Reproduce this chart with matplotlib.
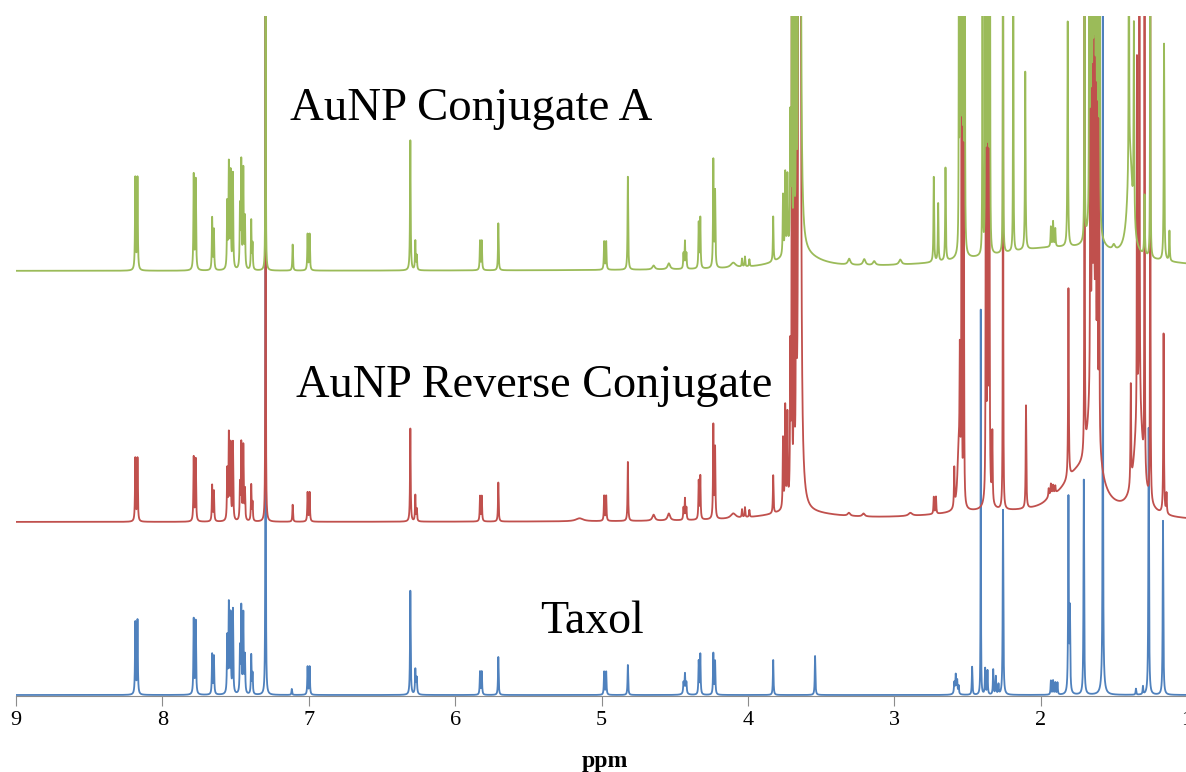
"""Stacked 1H NMR spectra: Taxol vs. AuNP conjugates."""

import numpy as np
import matplotlib
matplotlib.use("Agg")
import matplotlib.pyplot as plt

BLUE = "#4F81BD"
RED = "#C0504D"
GREEN = "#9BBB59"

# vertical offsets of each trace (plot units = pixels above x axis)
blue_offset = 1
red_offset = 174
green_offset = 425

tick_values = [9, 8, 7, 6, 5, 4, 3, 2, 1]
tick_labels = ["9", "8", "7", "6", "5", "4", "3", "2", "1"]

# --- Taxol (blue): sharp lines ---
blue_ppm = [8.185, 8.170, 7.786, 7.772, 7.660, 7.648, 7.557, 7.546, 7.534, 7.518,
            7.470, 7.461, 7.447, 7.436, 7.393, 7.384, 7.295, 7.116, 7.008, 6.994,
            6.306, 6.272, 6.262, 5.830, 5.818, 5.705, 4.982, 4.968, 4.820, 4.440,
            4.430, 4.420, 4.336, 4.325, 4.236, 4.224, 3.827, 3.541, 2.590, 2.580,
            2.570, 2.560, 2.468, 2.409, 2.379, 2.363, 2.324, 2.306, 2.288, 2.257,
            1.930, 1.915, 1.900, 1.885, 1.810, 1.800, 1.705, 1.575, 1.349, 1.301,
            1.262, 1.164]
blue_height = [72, 74, 75, 73, 40, 38, 56, 88, 78, 84,
               44, 85, 79, 37, 39, 20, 900, 6, 28, 28,
               104, 23, 12, 23, 23, 38, 23, 23, 30, 10,
               16, 10, 33, 40, 41, 33, 35, 39, 10, 15,
               12, 8, 28, 385, 26, 24, 25, 18, 10, 185,
               14, 14, 12, 12, 195, 80, 215, 900, 6, 8,
               267, 174]
# broad features
blue_broad_ppm = [1.575, 4.430, 2.580, 6.265]
blue_broad_height = [25, 5, 5, 6]
blue_broad_width = [0.010, 0.010, 0.010, 0.006]

# --- AuNP Reverse Conjugate (red) ---
red_ppm = [8.185, 8.170, 7.786, 7.772, 7.660, 7.648, 7.557, 7.546, 7.534, 7.518,
           7.470, 7.461, 7.447, 7.436, 7.393, 7.384, 7.295, 7.110, 7.008, 6.994,
           6.306, 6.272, 6.262, 5.830, 5.818, 5.705, 4.982, 4.968, 4.820, 4.440,
           4.430, 4.420, 4.336, 4.325, 4.236, 4.224, 4.040, 4.020, 3.990, 3.827,
           3.760, 3.745, 3.730, 3.710, 3.700, 3.685, 3.670, 3.655, 2.730, 2.715,
           2.590, 2.552, 2.540, 2.525, 2.374, 2.362, 2.350, 2.330, 2.257, 2.100,
           1.945, 1.930, 1.915, 1.900, 1.810, 1.700, 1.660, 1.648, 1.636, 1.624,
           1.612, 1.600, 1.384, 1.342, 1.325, 1.290, 1.251, 1.160, 1.140]
red_height = [63, 63, 64, 62, 36, 30, 50, 85, 75, 78,
              35, 76, 74, 30, 36, 18, 900, 17, 29, 29,
              93, 26, 12, 25, 25, 39, 25, 25, 59, 12,
              21, 12, 38, 43, 93, 70, 8, 10, 7, 38,
              70, 100, 90, 150, 900, 900, 900, 900, 17, 17,
              39, 125, 900, 900, 900, 900, 900, 70, 900, 103,
              8, 10, 8, 7, 190, 900, 900, 900, 900, 900,
              900, 600, 100, 350, 900, 900, 900, 180, 20]
red_broad_ppm = [3.645, 3.650, 1.750, 1.640, 1.330, 2.400, 4.100, 5.150,
                 4.644, 4.540, 3.310, 3.210, 2.890, 1.930, 2.560, 2.360]
red_broad_height = [2350, 8, 40, 150, 120, 8, 5, 3,
                    6, 7, 3, 3, 3, 5, 60, 60]
red_broad_width = [0.004, 0.30, 0.15, 0.03, 0.03, 0.50, 0.02, 0.03,
                   0.01, 0.01, 0.01, 0.01, 0.015, 0.03, 0.01, 0.01]

# --- AuNP Conjugate A (green) ---
green_ppm = [8.185, 8.170, 7.786, 7.772, 7.660, 7.648, 7.557, 7.546, 7.534, 7.518,
             7.470, 7.461, 7.447, 7.436, 7.393, 7.384, 7.295, 7.110, 7.008, 6.994,
             6.306, 6.272, 6.262, 5.830, 5.818, 5.705, 4.982, 4.968, 4.820, 4.440,
             4.430, 4.420, 4.336, 4.325, 4.236, 4.224, 4.040, 4.020, 3.990, 3.827,
             3.760, 3.745, 3.730, 3.710, 3.700, 3.685, 3.670, 3.655, 2.730, 2.700,
             2.650, 2.558, 2.550, 2.542, 2.534, 2.526, 2.518, 2.397, 2.378, 2.370,
             2.362, 2.354, 2.346, 2.257, 2.187, 2.105, 1.930, 1.915, 1.900, 1.815,
             1.700, 1.668, 1.660, 1.652, 1.644, 1.636, 1.628, 1.620, 1.612, 1.604,
             1.596, 1.397, 1.363, 1.290, 1.251, 1.157, 1.120]
green_height = [92, 92, 95, 90, 52, 40, 65, 103, 95, 95,
                60, 105, 98, 50, 49, 25, 600, 26, 36, 36,
                130, 29, 14, 29, 29, 47, 28, 28, 93, 15,
                27, 15, 45, 50, 107, 75, 8, 10, 7, 45,
                60, 80, 75, 130, 600, 600, 600, 600, 85, 58,
                93, 600, 600, 600, 600, 600, 600, 600, 600, 600,
                600, 600, 600, 600, 600, 178, 20, 25, 18, 225,
                600, 600, 600, 600, 600, 600, 600, 600, 600, 600,
                600, 600, 200, 60, 600, 217, 30]
green_broad_ppm = [3.645, 3.650, 1.900, 4.644, 4.540, 3.308, 3.205, 3.137,
                   2.959, 1.500, 4.100, 2.540, 1.635, 1.390]
green_broad_height = [1600, 15, 23, 4, 6, 6, 6, 4,
                      5, 5, 5, 40, 100, 100]
green_broad_width = [0.004, 0.15, 0.60, 0.01, 0.01, 0.01, 0.01, 0.01,
                     0.01, 0.01, 0.02, 0.01, 0.02, 0.02]

LINE_WIDTH = 0.0025  # HWHM of ordinary sharp lines, ppm
TALL_WIDTH = 0.0012  # HWHM of lines that run off the top


def lorentz_sum(x, centers, heights, widths):
    y = np.zeros_like(x)
    for c, h, w in zip(centers, heights, widths):
        y += h * w ** 2 / ((x - c) ** 2 + w ** 2)
    return y


def trace(x, ppm, height, bppm, bheight, bwidth, offset):
    widths = np.where(np.asarray(height) > 300, TALL_WIDTH, LINE_WIDTH)
    sharp = lorentz_sum(x, ppm, height, widths)
    broad = lorentz_sum(x, bppm, bheight, bwidth)
    return offset + sharp + broad


x = np.linspace(9.05, 0.95, 32401)

fig = plt.figure(figsize=(11.86, 7.72), dpi=100)
ax = fig.add_axes([16 / 1186, 76 / 772, 1171 / 1186, 680 / 772])

ax.plot(x, trace(x, blue_ppm, blue_height, blue_broad_ppm, blue_broad_height,
                 blue_broad_width, blue_offset), color=BLUE, lw=1.3)
ax.plot(x, trace(x, red_ppm, red_height, red_broad_ppm, red_broad_height,
                 red_broad_width, red_offset), color=RED, lw=1.3)
ax.plot(x, trace(x, green_ppm, green_height, green_broad_ppm, green_broad_height,
                 green_broad_width, green_offset), color=GREEN, lw=1.3)

ax.set_xlim(9, 1)
ax.set_ylim(0, 680)
ax.set_xticks(tick_values)
ax.set_xticklabels(tick_labels, family="Liberation Serif")
ax.set_yticks([])
ax.tick_params(axis="x", direction="out", length=7, width=0.8, color="#8c8c8c",
               labelsize=16, pad=4)
for side in ("left", "right", "top"):
    ax.spines[side].set_visible(False)
ax.spines["bottom"].set_color("#8c8c8c")

serif = "Liberation Serif"
fig.text(290 / 1186, 1 - 120 / 772, "AuNP Conjugate A", family=serif,
         fontsize=33.7, ha="left", va="baseline")
fig.text(296 / 1186, 1 - 397 / 772, "AuNP Reverse Conjugate", family=serif,
         fontsize=33.3, ha="left", va="baseline")
fig.text(540 / 1186, 1 - 633 / 772, "Taxol", family=serif,
         fontsize=33, ha="left", va="baseline")
fig.text(605 / 1186, 1 - 767 / 772, "ppm", family=serif, fontsize=17,
         fontweight="bold", ha="center", va="baseline")

fig.savefig("out.png", dpi=100)
plt.close(fig)
